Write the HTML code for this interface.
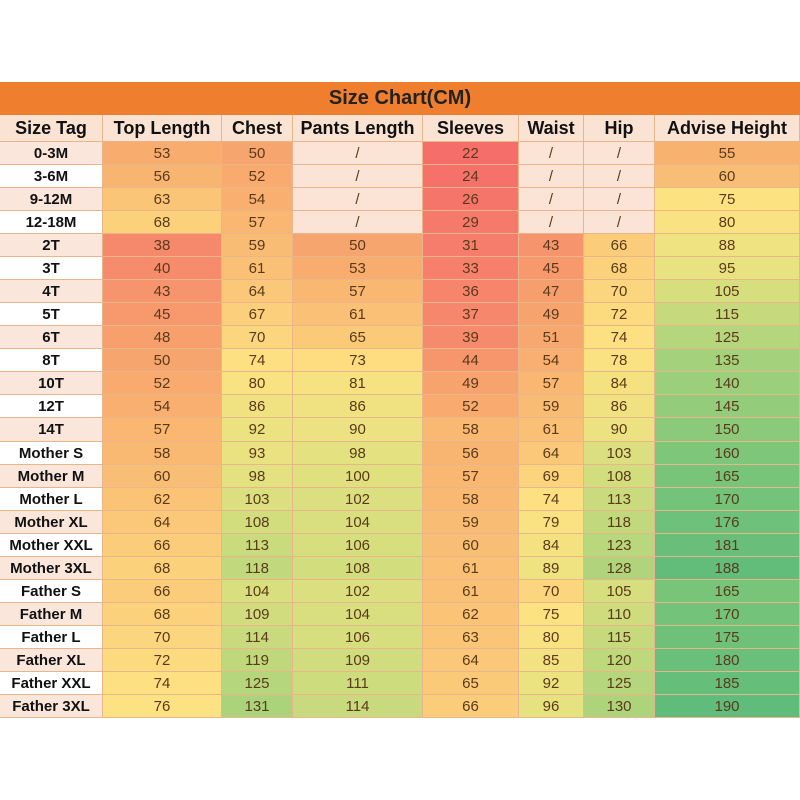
<!DOCTYPE html>
<html><head><meta charset="utf-8">
<style>
body{margin:0;width:800px;height:800px;background:#fff;position:relative;overflow:hidden;font-family:"Liberation Sans",sans-serif;}
.c{position:absolute;box-sizing:border-box;border-right:1px solid #e9b58a;border-bottom:1px solid #e9b58a;display:flex;align-items:center;justify-content:center;font-size:15px;color:#5a3a1a;}
.h{font-weight:bold;font-size:18px;color:#111;background:#fbe3d4;}
.t{font-weight:bold;color:#111;}
#title{position:absolute;left:0;top:82px;width:800px;height:33px;background:#ef7e2e;display:flex;align-items:center;justify-content:center;font-weight:bold;font-size:20px;color:#222;}
</style></head><body>
<div id="title">Size Chart(CM)</div>
<script>
const cols=[0,103,222,293,423,519,584,655,800];
const heads=["Size Tag","Top Length","Chest","Pants Length","Sleeves","Waist","Hip","Advise Height"];
const rows=`0-3M 53 50 / 22 / / 55
3-6M 56 52 / 24 / / 60
9-12M 63 54 / 26 / / 75
12-18M 68 57 / 29 / / 80
2T 38 59 50 31 43 66 88
3T 40 61 53 33 45 68 95
4T 43 64 57 36 47 70 105
5T 45 67 61 37 49 72 115
6T 48 70 65 39 51 74 125
8T 50 74 73 44 54 78 135
10T 52 80 81 49 57 84 140
12T 54 86 86 52 59 86 145
14T 57 92 90 58 61 90 150
Mother_S 58 93 98 56 64 103 160
Mother_M 60 98 100 57 69 108 165
Mother_L 62 103 102 58 74 113 170
Mother_XL 64 108 104 59 79 118 176
Mother_XXL 66 113 106 60 84 123 181
Mother_3XL 68 118 108 61 89 128 188
Father_S 66 104 102 61 70 105 165
Father_M 68 109 104 62 75 110 170
Father_L 70 114 106 63 80 115 175
Father_XL 72 119 109 64 85 120 180
Father_XXL 74 125 111 65 92 125 185
Father_3XL 76 131 114 66 96 130 190`.split("\n").map(r=>r.split(" "));
const stops=[[22,[246,110,106]],[40,[246,140,108]],[55,[248,178,112]],[75,[253,226,130]],[95,[232,226,128]],[120,[190,216,124]],[155,[130,200,122]],[190,[96,188,122]]];
function col(v){if(v<=stops[0][0])return stops[0][1];for(let i=1;i<stops.length;i++){if(v<=stops[i][0]){const a=stops[i-1],b=stops[i];const t=(v-a[0])/(b[0]-a[0]);return a[1].map((x,k)=>Math.round(x+(b[1][k]-x)*t));}}return stops[stops.length-1][1];}
let html="";
function cell(x0,x1,y,h,txt,cls,bg){html+=`<div class="c ${cls}" style="left:${x0}px;top:${y}px;width:${x1-x0}px;height:${h}px;background:${bg}">${txt}</div>`;}
for(let j=0;j<8;j++)cell(cols[j],cols[j+1],115,27,heads[j],"h","#fbe3d4");
rows.forEach((r,i)=>{const y=142+i*23.04;for(let j=0;j<8;j++){let v=r[j],bg,cls="";
if(j==0){v=v.replace("_"," ");cls="t";bg=i%2?"#ffffff":"#fbe6dc";}
else if(v=="/"){bg="#fbe3d6";}
else{const c=col(+v);bg=`rgb(${c})`;}
cell(cols[j],cols[j+1],Math.round(y),Math.round(y+23.04)-Math.round(y),v,cls,bg);}});
document.body.insertAdjacentHTML("beforeend",html);
</script>
</body></html>
